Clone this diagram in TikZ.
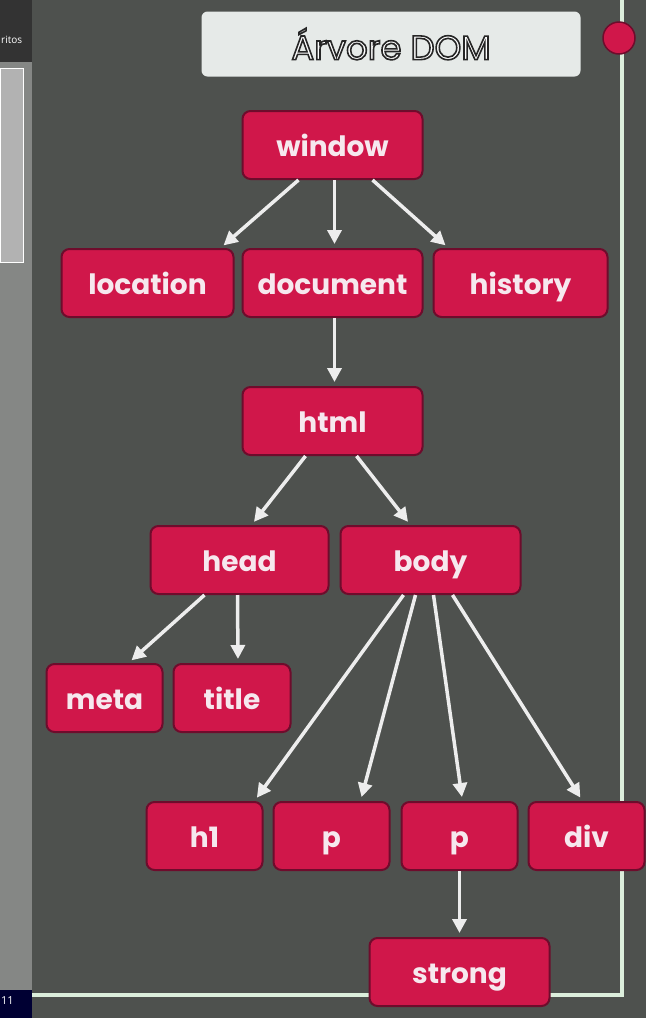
\documentclass[tikz,border=0pt]{standalone}
\usepackage{fontspec}
\setmainfont{Poppins}
\newfontfamily\uifont{Open Sans}
\usetikzlibrary{positioning}
\usetikzlibrary{arrows.meta}
\definecolor{domred}{HTML}{D0174A}
\definecolor{domrim}{HTML}{6E0C2C}
\definecolor{domtext}{HTML}{F6E8EE}
\definecolor{noise}{HTML}{4E514E}
\definecolor{titlebg}{HTML}{E6EAE8}
\definecolor{railcol}{HTML}{DCEEDC}
\definecolor{sidebar}{HTML}{858785}
% white letters with a dark outline
\newcommand{\outlined}[1]{\special{pdf:literal direct 0.15 0.15 0.15 RG 1.6 w 2 Tr}#1\special{pdf:literal direct 0 Tr}}
\tikzset{x=1pt, y=-1pt,
tag/.style={ % red box of one DOM element
  draw=domrim, fill=domred, text=domtext, line width=2pt,
  rounded corners=8pt, minimum height=68pt, minimum width=116pt,
  text height=24pt, text depth=2pt,
  inner sep=0pt, font=\fontsize{28}{30}\selectfont\bfseries},
wide/.style={tag, minimum width=180pt},
link/.style={ % white arrow from parent to child
  draw=white!93!black, line width=3.5pt,
  -{Triangle[length=14pt,width=14pt]}, shorten >=4pt}}

\begin{document}
\begin{tikzpicture}
\useasboundingbox (0,0) rectangle (646,1018);
% backdrop and the cut-off side bar
\fill[noise] (0,0) rectangle (646,1018);
\fill[sidebar] (0,0) rectangle (32,1018);
\fill[black!80] (0,0) rectangle (32,62);
\fill[black!30,draw=white,line width=1pt] (0,68) rectangle (23,262);
\fill[blue!20!black] (0,990) rectangle (32,1018);
\node[anchor=west, text=white, inner sep=0pt, font=\uifont\fontsize{10}{12}\selectfont] (tabtext) at (1,40) {ritos};
\node[anchor=west, text=white, inner sep=0pt, font=\uifont\fontsize{11}{12}\selectfont] (clock) at (1,1001) {11};
% frame lines
\draw[railcol, line width=4pt] (622,0) -- (622,995) -- (32,995);
\fill[domred, draw=domrim, line width=1.5pt] (619,38) circle (16);
% title
\node[fill=titlebg, rounded corners=6pt, minimum width=379pt, minimum height=65pt,
  text=white, font=\fontsize{34}{36}\selectfont] (heading) at (391,44)
  {\outlined{Árvore DOM}};
% tree
\node[wide] (window) at (332.5,145) {window};
\node[wide] (document) at (332.5,283) {document};
\node[tag, minimum width=172pt] (location) at (147.5,283) {location};
\node[tag, minimum width=174pt] (history) at (520.5,283) {history};
\node[wide] (html) at (332.5,421) {html};
\node[tag, minimum width=178pt] (head) at (239.5,560) {head};
\node[wide] (body) at (430.5,560) {body};
\node[tag] (meta) at (104.5,698) {meta};
\node[tag, minimum width=117pt] (title) at (232,698) {title};
\node[tag] (h1) at (204.5,836) {h1};
\node[tag] (p) at (331.5,836) {p};
\node[tag] (p2) at (459.5,836) {p};
\node[tag] (div) at (586.5,836) {div};
\node[wide, below=66pt of p2] (strong) {strong};
% arrows
\draw[link] ([xshift=-34pt]window.south) -- ([xshift=73pt]location.north);
\draw[link] ([xshift=2pt]window.south) -- ([xshift=2pt]document.north);
\draw[link] ([xshift=40pt]window.south) -- ([xshift=-72pt]history.north);
\draw[link] ([xshift=2pt]document.south) -- ([xshift=2pt]html.north);
\draw[link] ([xshift=-27pt]html.south) -- ([xshift=12pt]head.north);
\draw[link] ([xshift=24pt]html.south) -- ([xshift=-20pt]body.north);
\draw[link] ([xshift=-35pt]head.south) -- ([xshift=24pt]meta.north);
\draw[link] ([xshift=-2pt]head.south) -- ([xshift=6pt]title.north);
\draw[link] ([xshift=-27pt]body.south) -- ([xshift=50pt]h1.north);
\draw[link] ([xshift=-15pt]body.south) -- ([xshift=29pt]p.north);
\draw[link] ([xshift=3pt]body.south) -- ([xshift=3pt]p2.north);
\draw[link] ([xshift=22pt]body.south) -- ([xshift=-4pt]div.north);
\draw[link] (p2.south) -- (strong.north);
\end{tikzpicture}
\end{document}
